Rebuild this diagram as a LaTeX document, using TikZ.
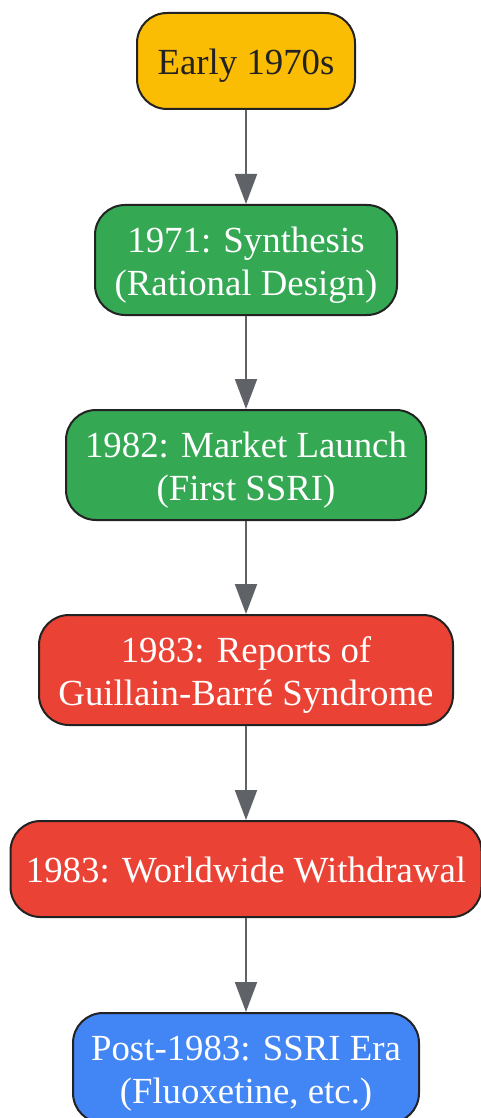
\documentclass[tikz,border=0pt]{standalone}
\usepackage{fontspec}
\setmainfont{Liberation Serif}
\usetikzlibrary{arrows.meta}

\definecolor{stageyellow}{HTML}{FBBC04}
\definecolor{stagegreen}{HTML}{34A853}
\definecolor{stagered}{HTML}{EA4335}
\definecolor{stageblue}{HTML}{4285F4}
\definecolor{edgegray}{HTML}{5F6368}
\definecolor{borderdark}{HTML}{222222}

\tikzset{
	stage/.style = {draw = borderdark, line width = 1pt, rounded corners = 15pt,
		align = center, inner sep = 0pt, text = white, text depth = 4pt,
		font = \fontsize{18.4}{21.5}\selectfont},
	oneline/.style = {stage, minimum height = 48pt, text height = 17.5pt},
	twoline/.style = {stage, minimum height = 55pt, text height = 39.6pt},
	flow/.style = {draw = edgegray, line width = 1pt,
		-{Triangle[length = 15pt, width = 11pt]}}
}

\begin{document}
\begin{tikzpicture}[x = 0.5pt, y = -0.5pt]

	\useasboundingbox (0, 0) rectangle (481, 1118);

	% Stages

	\node [oneline, fill = stageyellow, text = borderdark, minimum width = 109pt]
		(early) at (246, 61) {Early 1970s};
	\node [twoline, fill = stagegreen, minimum width = 151pt]
		(synth) at (246, 260) {1971: Synthesis\\(Rational Design)};
	\node [twoline, fill = stagegreen, minimum width = 180pt]
		(launch) at (246, 465) {1982: Market Launch\\(First SSRI)};
	\node [twoline, fill = stagered, minimum width = 207pt]
		(reports) at (246, 670) {1983: Reports of\\Guillain-Barré Syndrome};
	\node [oneline, fill = stagered, minimum width = 235.5pt]
		(withdraw) at (246, 869) {1983: Worldwide Withdrawal};
	\node [twoline, fill = stageblue, minimum width = 173pt]
		(ssri) at (246, 1068) {Post-1983: SSRI Era\\(Fluoxetine, etc.)};

	% Arrows

	\draw [flow] (early) -- (synth);
	\draw [flow] (synth) -- (launch);
	\draw [flow] (launch) -- (reports);
	\draw [flow] (reports) -- (withdraw);
	\draw [flow] (withdraw) -- (ssri);

\end{tikzpicture}
\end{document}
